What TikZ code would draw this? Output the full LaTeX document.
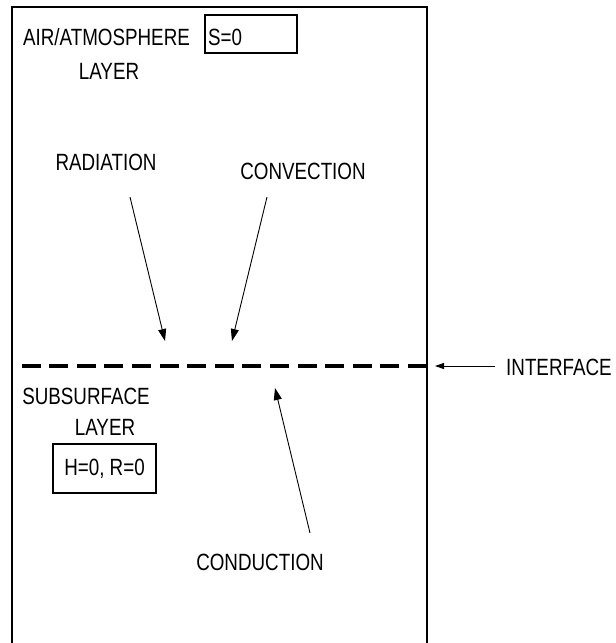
\documentclass[tikz,border=0pt]{standalone}
\usepackage{fontspec}
\setmainfont[FakeStretch=0.8]{Liberation Sans}
\usetikzlibrary{arrows.meta}
\begin{document}
\begin{tikzpicture}[x=1pt,y=-1pt,
  lbl/.style={font=\fontsize{23.5}{28}\selectfont, inner sep=0pt},
  framebox/.style={draw, line width=1.8pt, inner sep=0pt},
  flowarrow/.style={line width=0.9pt, -{Triangle[length=12pt,width=8pt]}},
  smallarrow/.style={line width=0.9pt, -{Triangle[length=9pt,width=6pt]}},
  interfaceline/.style={line width=3.6pt, dash pattern=on 19pt off 8.6pt},
]
\useasboundingbox (0,0) rectangle (616,643);
% outer frame (bottom runs off the page)
\draw[line width=1.8pt] (12,643) -- (12,7) -- (427,7) -- (427,643);

% upper layer labels
\node[lbl] (air) at (106.5,37.5) {AIR/ATMOSPHERE};
\node[lbl] (airlayer) at (109,71) {LAYER};
\node[framebox, minimum width=92pt, minimum height=38pt] (sbox) at (251,34) {};
\node[lbl, anchor=west] (stext) at (208,37.5) {S=0};

\node[lbl] (rad) at (106,162) {RADIATION};
\node[lbl] (conv) at (303,171) {CONVECTION};

% interface
\coordinate (dL) at (12,366);
\coordinate (dR) at (427,366);
\draw[interfaceline] (dR) -- (dL);
\node[lbl, anchor=west] (iface) at (506,367) {INTERFACE};
\coordinate (ifaceTip) at (435,366);
\draw[smallarrow] ([xshift=-11pt]iface.west |- dR) -- (ifaceTip);

% arrows to interface
\coordinate (radS) at (130,197);
\coordinate (radE) at (165,341);
\coordinate (convS) at (267,197);
\coordinate (convE) at (232,341);
\draw[flowarrow] (radS) -- (radE);
\draw[flowarrow] (convS) -- (convE);

% lower layer
\node[lbl] (sub) at (86,396) {SUBSURFACE};
\node[lbl] (sublayer) at (105,427) {LAYER};
\node[lbl, framebox, minimum width=103pt, minimum height=49pt] (hbox) at (104.5,468.5) {H=0, R=0};

\node[lbl] (cond) at (260,562) {CONDUCTION};
\coordinate (condS) at (310,533);
\coordinate (condE) at (275,388);
\draw[flowarrow] (condS) -- (condE);
\end{tikzpicture}
\end{document}
